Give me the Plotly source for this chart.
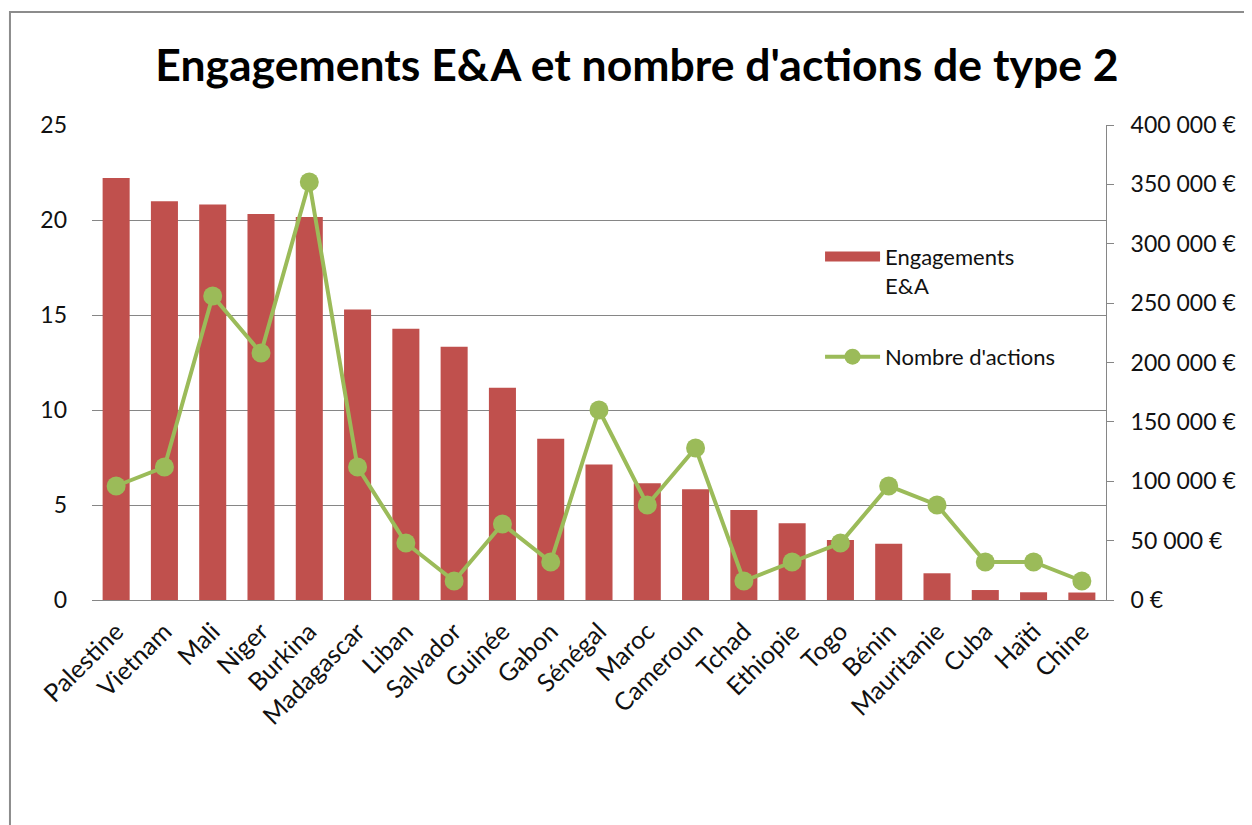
import plotly.graph_objects as go

# Données
pays = ["Palestine", "Vietnam", "Mali", "Niger", "Burkina", "Madagascar", "Liban",
        "Salvador", "Guinée", "Gabon", "Sénégal", "Maroc", "Cameroun", "Tchad",
        "Ethiopie", "Togo", "Bénin", "Mauritanie", "Cuba", "Haïti", "Chine"]
engagements = [355400, 335800, 333000, 325100, 322500, 244700, 228500,
               213300, 178700, 135700, 114100, 98300, 93200, 75800,
               64600, 50500, 47400, 22500, 8400, 6500, 6300]
nb_actions = [6, 7, 16, 13, 22, 7, 3, 1, 4, 2, 10, 5, 8, 1, 2, 3, 6, 5, 2, 2, 1]

euro_ticks = [0, 50000, 100000, 150000, 200000, 250000, 300000, 350000, 400000]
euro_labels = [f"{v:,}".replace(",", " ") + " €" for v in euro_ticks]

FONT = "Lato"
GRID = "#868686"
ROUGE = "#C0504D"
VERT = "#9BBB59"

fig = go.Figure()

fig.add_trace(go.Bar(
    x=pays, y=engagements,
    name="Engagements E&A",
    marker=dict(color=ROUGE, line=dict(width=0)),
    legendgroup="a", showlegend=False,
    yaxis="y",
))

# entrée de légende : rectangle large comme dans Excel
fig.add_trace(go.Scatter(
    x=[None], y=[None],
    name="Engagements<br>E&A",
    mode="lines",
    line=dict(color=ROUGE, width=14),
    legendgroup="a",
    yaxis="y",
))

fig.add_trace(go.Scatter(
    x=pays, y=nb_actions,
    name="Nombre d'actions",
    mode="lines+markers",
    line=dict(color=VERT, width=4),
    marker=dict(color=VERT, size=19),
    legendgroup="b",
    yaxis="y2",
))

# la page ajoute une marge de 8 px : figure un peu plus petite
fig.update_layout(
    width=1244, height=817,
    margin=dict(l=84, r=146, t=117, b=225),
    paper_bgcolor="white", plot_bgcolor="rgba(0,0,0,0)",
    font=dict(family=FONT, size=23, color="#111111"),
    bargap=0.44,
    title=dict(
        text="<b>Engagements E&A et nombre d'actions de type 2</b>",
        x=0.5056, xref="container", xanchor="center",
        y=0.93, yref="container", yanchor="middle",
        font=dict(family=FONT, size=44.5, color="#000000"),
    ),
    xaxis=dict(
        range=[-0.5, len(pays) - 0.5],
        tickangle=-45, showline=True, linecolor=GRID, linewidth=1,
        ticks="", showgrid=False, tickfont=dict(size=25),
        ticklabelstandoff=6, automargin=False,
    ),
    yaxis=dict(
        side="right", range=[0, 400000],
        tickmode="array", tickvals=euro_ticks, ticktext=euro_labels,
        showgrid=False, zeroline=False,
        showline=True, linecolor=GRID, linewidth=1,
        ticks="outside", ticklen=7, tickcolor=GRID,
        ticklabelstandoff=12, automargin=False,
    ),
    yaxis2=dict(
        overlaying="y", side="left", range=[0, 25], dtick=5,
        showgrid=True, gridcolor=GRID, gridwidth=1,
        zeroline=False, showline=False, ticks="",
        ticklabelstandoff=24, automargin=False,
    ),
    legend=dict(
        x=0.718, y=0.767, xanchor="left", yanchor="top",
        bgcolor="rgba(0,0,0,0)", traceorder="grouped",
        tracegroupgap=40, valign="top", itemwidth=55,
        font=dict(size=22),
    ),
    showlegend=True,
)

# cadre de la zone de graphique
fig.add_shape(
    type="rect", xref="paper", yref="paper",
    x0=-0.0809, x1=1.2, y0=-0.6, y1=1.238,
    line=dict(color="#8C8C8C", width=2), fillcolor="rgba(0,0,0,0)",
    layer="below",
)

fig.write_html("out.html")
